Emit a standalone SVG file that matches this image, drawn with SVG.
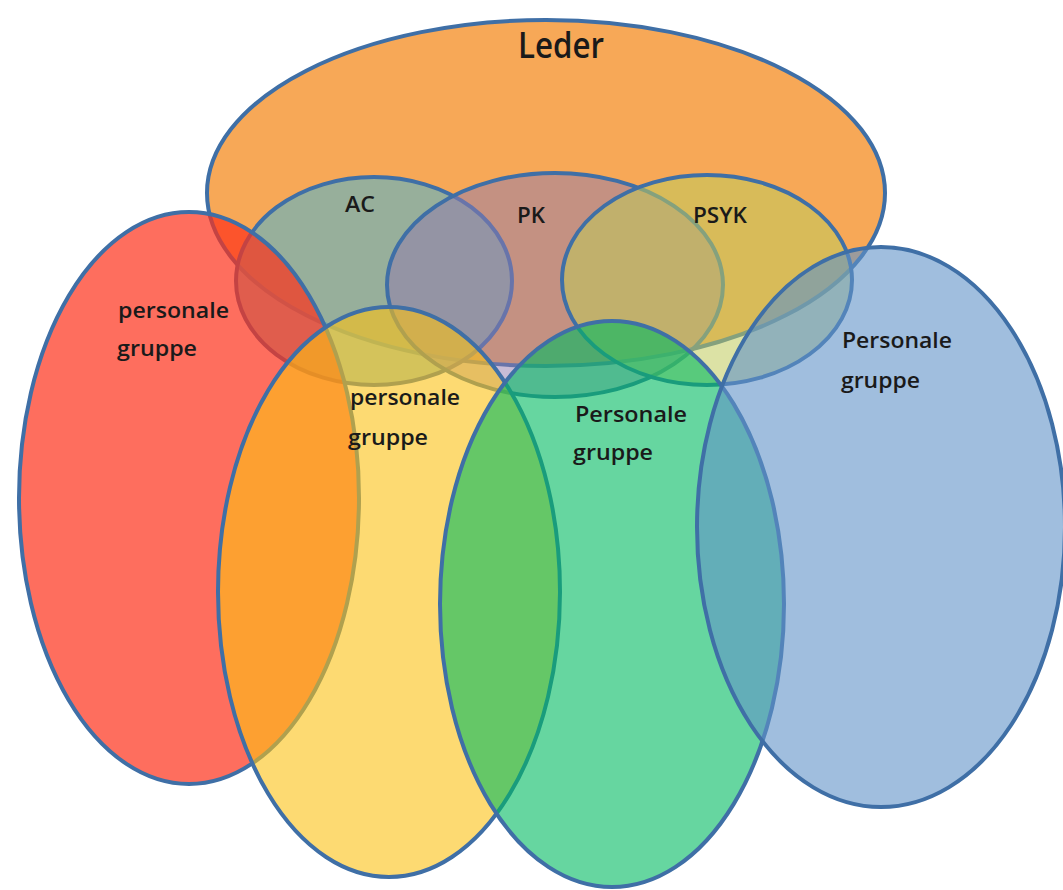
<svg xmlns="http://www.w3.org/2000/svg" width="1063" height="890" viewBox="0 0 1063 890">
  <style>
    .shape { stroke: #3F6FA6; stroke-width: 4; }
    .lbl { font-family: "Open Sans", "Liberation Sans", Arial, sans-serif; font-size: 21px; font-weight: 600; fill: #1a1a1a; }
    .big { font-family: "Open Sans", "Liberation Sans", Arial, sans-serif; font-size: 36px; font-weight: 600; fill: #1a1a1a; }
  </style>
  <rect width="1063" height="890" fill="#ffffff"/>
  <g id="leder">
    <ellipse class="shape" cx="546" cy="193" rx="339" ry="173" fill="#F7A857"/>
    <text class="big" x="518" y="58" textLength="86" lengthAdjust="spacingAndGlyphs">Leder</text>
  </g>
  <g id="ac">
    <ellipse class="shape" cx="374" cy="281" rx="138" ry="104" fill="#77B1B2" fill-opacity="0.75"/>
    <text class="lbl" x="345" y="212" textLength="30" lengthAdjust="spacingAndGlyphs">AC</text>
  </g>
  <g id="pk">
    <ellipse class="shape" cx="555" cy="285" rx="168" ry="112" fill="#917AAD" fill-opacity="0.5"/>
    <text class="lbl" x="517" y="223" textLength="28" lengthAdjust="spacingAndGlyphs">PK</text>
  </g>
  <g id="psyk">
    <ellipse class="shape" cx="707" cy="280" rx="145" ry="105" fill="#BFCA5B" fill-opacity="0.55"/>
    <text class="lbl" x="693" y="223" textLength="54" lengthAdjust="spacingAndGlyphs">PSYK</text>
  </g>
  <g id="gruppe-red">
    <ellipse class="shape" cx="189" cy="498" rx="170" ry="286" fill="#FD3119" fill-opacity="0.7"/>
    <text class="lbl" x="118" y="318" textLength="111" lengthAdjust="spacingAndGlyphs">personale</text>
    <text class="lbl" x="117" y="356" textLength="80" lengthAdjust="spacingAndGlyphs">gruppe</text>
  </g>
  <g id="gruppe-yellow">
    <ellipse class="shape" cx="389" cy="592" rx="171" ry="285" fill="#FCC114" fill-opacity="0.6"/>
    <text class="lbl" x="350" y="405" textLength="110" lengthAdjust="spacingAndGlyphs">personale</text>
    <text class="lbl" x="348" y="445" textLength="80" lengthAdjust="spacingAndGlyphs">gruppe</text>
  </g>
  <g id="gruppe-green">
    <ellipse class="shape" cx="612" cy="604" rx="172" ry="283" fill="#00BB61" fill-opacity="0.6"/>
    <text class="lbl" x="575" y="422" textLength="112" lengthAdjust="spacingAndGlyphs">Personale</text>
    <text class="lbl" x="573" y="460" textLength="80" lengthAdjust="spacingAndGlyphs">gruppe</text>
  </g>
  <g id="gruppe-blue">
    <ellipse class="shape" cx="881" cy="527" rx="184" ry="280" fill="#6193C8" fill-opacity="0.6"/>
    <text class="lbl" x="842" y="348" textLength="110" lengthAdjust="spacingAndGlyphs">Personale</text>
    <text class="lbl" x="841" y="388" textLength="79" lengthAdjust="spacingAndGlyphs">gruppe</text>
  </g>
</svg>
